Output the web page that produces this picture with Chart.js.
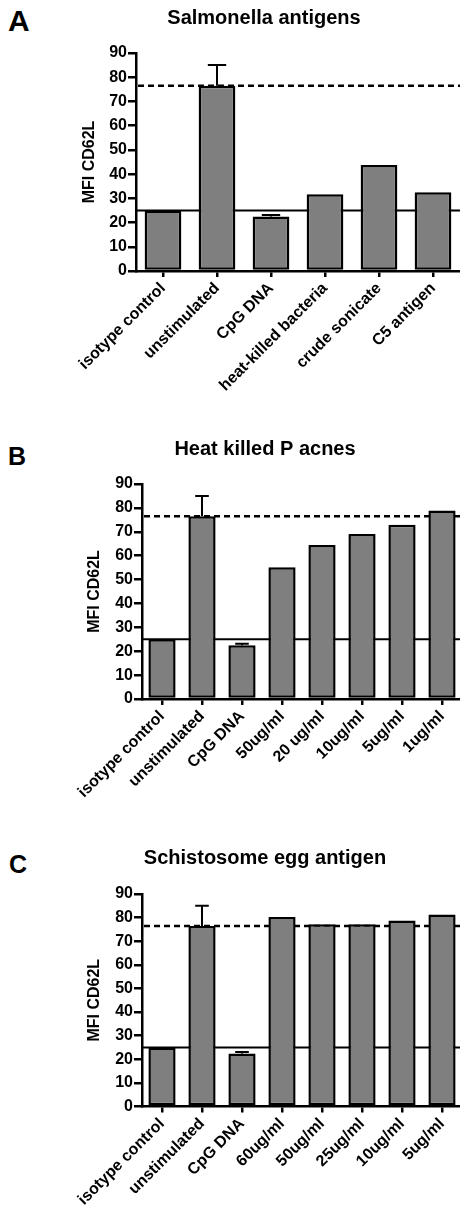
<!DOCTYPE html>
<html>
<head>
<meta charset="utf-8">
<script src="https://cdn.jsdelivr.net/npm/chart.js@4.4.1/dist/chart.umd.min.js"></script>
<style>
  html, body { margin: 0; padding: 0; background: #fff; width: 460px; height: 1209px; overflow: hidden; position: relative; }
  .letter { position: absolute; font-family: "Liberation Sans", Arial, sans-serif; font-weight: bold; color: #000; }
  .wrap { position: absolute; }
  canvas { display: block; }
</style>
</head>
<body>
<div class="letter" style="left:8px; top:6px; font-size:30px; line-height:30px;">A</div>
<div class="letter" style="left:8px; top:444px; font-size:25px; line-height:25px;">B</div>
<div class="letter" style="left:9px; top:852px; font-size:25px; line-height:25px;">C</div>

<div class="wrap" style="left:68px; top:0px; width:392px; height:400px;"><canvas id="cA"></canvas></div>
<div class="wrap" style="left:68px; top:420px; width:394px; height:390px;"><canvas id="cB"></canvas></div>
<div class="wrap" style="left:68px; top:830px; width:394px; height:379px;"><canvas id="cC"></canvas></div>

<script>
// ---------- DATA ----------
const titleA = 'Salmonella antigens';
const categoriesA = ['isotype control', 'unstimulated', 'CpG DNA', 'heat-killed bacteria', 'crude sonicate', 'C5 antigen'];
const valuesA = [25, 76.5, 22.5, 31.7, 43.8, 32.5];
const errorsA = [0, 8.5, 0.6, 0, 0, 0];

const titleB = 'Heat killed P acnes';
const categoriesB = ['isotype control', 'unstimulated', 'CpG DNA', '50ug/ml', '20 ug/ml', '10ug/ml', '5ug/ml', '1ug/ml'];
const valuesB = [25, 76.5, 22.5, 55.1, 64.5, 69.1, 72.9, 78.9];
const errorsB = [0, 8.5, 0.6, 0, 0, 0, 0, 0];

const titleC = 'Schistosome egg antigen';
const categoriesC = ['isotype control', 'unstimulated', 'CpG DNA', '60ug/ml', '50ug/ml', '25ug/ml', '10ug/ml', '5ug/ml'];
const valuesC = [25, 76.5, 22.5, 80.3, 77.2, 77.2, 78.8, 81.3];
const errorsC = [0, 8.5, 0.6, 0, 0, 0, 0, 0];

const yTicks = [0, 10, 20, 30, 40, 50, 60, 70, 80, 90];
const yAxisTitle = 'MFI CD62L';
const isotypeLevel = 25;       // solid reference line
const unstimulatedLevel = 76.5; // dashed reference line

// ---------- PLUGINS ----------
const refLinesPlugin = {
  id: 'refLines',
  beforeDatasetsDraw(chart) {
    const {ctx, chartArea, scales: {y}} = chart;
    ctx.save();
    ctx.strokeStyle = '#000';
    ctx.lineWidth = 2;
    const ys = y.getPixelForValue(isotypeLevel);
    ctx.beginPath(); ctx.moveTo(chartArea.left, ys); ctx.lineTo(chartArea.right, ys); ctx.stroke();
    ctx.lineWidth = 2.5;
    ctx.setLineDash([6, 4]);
    const yd = y.getPixelForValue(unstimulatedLevel);
    ctx.beginPath(); ctx.moveTo(chartArea.left + 2, yd); ctx.lineTo(chartArea.right, yd); ctx.stroke();
    ctx.restore();
  }
};

const errorBarPlugin = {
  id: 'errorBars',
  afterDatasetsDraw(chart) {
    const {ctx, scales: {y}} = chart;
    const meta = chart.getDatasetMeta(0);
    const ds = chart.data.datasets[0];
    const errs = ds.errors || [];
    ctx.save();
    ctx.strokeStyle = '#000';
    ctx.lineWidth = 2;
    meta.data.forEach((bar, i) => {
      const e = errs[i];
      if (!e) return;
      const v = ds.data[i];
      const yTop = y.getPixelForValue(v + e);
      const half = bar.width / 4;
      ctx.beginPath();
      ctx.moveTo(bar.x, bar.y);
      ctx.lineTo(bar.x, yTop);
      ctx.moveTo(bar.x - half, yTop);
      ctx.lineTo(bar.x + half, yTop);
      ctx.stroke();
    });
    ctx.restore();
  }
};

const FONT = '"Liberation Sans", Arial, sans-serif';

function makeChart(id, title, cats, vals, errs, cfg) {
  const wrap = document.getElementById(id).parentNode;
  const W = parseFloat(wrap.style.width), H = parseFloat(wrap.style.height);
  const canvas = document.getElementById(id);
  canvas.width = W; canvas.height = H;
  canvas.style.width = W + 'px'; canvas.style.height = H + 'px';
  return new Chart(canvas, {
    type: 'bar',
    data: {
      labels: cats,
      datasets: [{
        data: vals,
        errors: errs,
        backgroundColor: '#7f7f7f',
        borderColor: '#000',
        borderWidth: 2.5,
        borderSkipped: false,
        barPercentage: 0.68,
        categoryPercentage: 1.0
      }]
    },
    options: {
      responsive: false,
      animation: false,
      devicePixelRatio: 1,
      layout: { padding: { left: 0, right: 0, top: 0, bottom: 0 } },
      plugins: {
        legend: { display: false },
        tooltip: { enabled: false },
        title: {
          display: true,
          text: title,
          color: '#000',
          font: { family: FONT, size: 20, weight: 'bold' },
          padding: { top: cfg.titleTop, bottom: cfg.titleBottom }
        }
      },
      scales: {
        x: {
          offset: true,
          border: { display: true, color: '#000', width: 2.5 },
          grid: { display: true, offset: false, drawOnChartArea: false, drawTicks: true, tickLength: 6, color: '#000', lineWidth: 2.5 },
          ticks: {
            autoSkip: false, maxRotation: 45, minRotation: 45, padding: 2,
            color: '#000', font: { family: FONT, size: 16, weight: 'bold' }
          },
          afterFit(scale) { scale.height = cfg.xHeight; scale.paddingLeft = 0; scale.paddingRight = 0; }
        },
        y: {
          min: 0, max: 90,
          afterBuildTicks(scale) { scale.ticks = yTicks.map(v => ({ value: v })); },
          border: { display: true, color: '#000', width: 2.5 },
          grid: { display: true, drawOnChartArea: false, drawTicks: true, tickLength: 8, color: '#000', lineWidth: 2.5 },
          ticks: { autoSkip: false, padding: 1, color: '#000', font: { family: FONT, size: 16, weight: 'bold' } },
          title: {
            display: true, text: yAxisTitle, color: '#000',
            font: { family: FONT, size: 16, weight: 'bold' },
            padding: { top: cfg.yTitlePad, bottom: 0 }
          },
          afterFit(scale) { scale.width = cfg.yWidth; scale.paddingTop = 0; scale.paddingBottom = 0; }
        }
      }
    },
    plugins: [refLinesPlugin, errorBarPlugin]
  });
}

makeChart('cA', titleA, categoriesA, valuesA, errorsA, { titleTop: 6, titleBottom: 23, xHeight: 129, yWidth: 68, yTitlePad: 12 });
makeChart('cB', titleB, categoriesB, valuesB, errorsB, { titleTop: 17.5, titleBottom: 22.5, xHeight: 111, yWidth: 74, yTitlePad: 17 });
makeChart('cC', titleC, categoriesC, valuesC, errorsC, { titleTop: 16.5, titleBottom: 23.5, xHeight: 102.5, yWidth: 74, yTitlePad: 17 });
</script>
</body>
</html>
